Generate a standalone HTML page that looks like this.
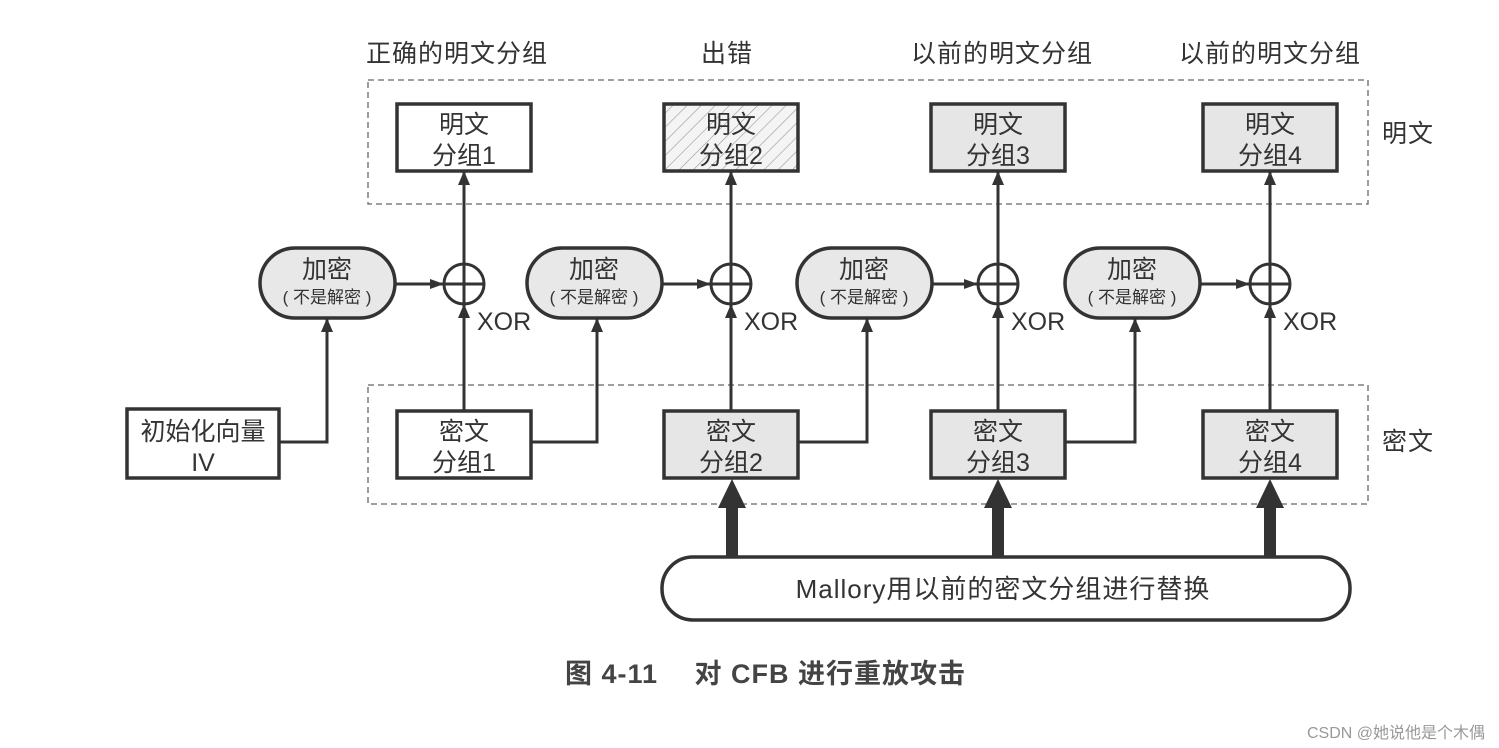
<!DOCTYPE html>
<html><head><meta charset="utf-8"><style>
html,body{margin:0;padding:0;background:#fff;}
svg{display:block;}
text{font-family:"Liberation Sans","Noto Sans CJK SC",sans-serif;fill:#333;}
</style></head><body>
<svg width="1499" height="748" viewBox="0 0 1499 748" xmlns="http://www.w3.org/2000/svg">
<defs>
<marker id="a" viewBox="0 0 14 12" refX="13" refY="6" markerWidth="14" markerHeight="12" markerUnits="userSpaceOnUse" orient="auto"><path d="M0,0 L14,6 L0,12 z" fill="#333"/></marker>
<marker id="b" viewBox="0 0 14 12" refX="13" refY="6" markerWidth="14" markerHeight="12" markerUnits="userSpaceOnUse" orient="auto"><path d="M0,1 L14,6 L0,11 z" fill="#333"/></marker>
<pattern id="h" width="10" height="10" patternUnits="userSpaceOnUse" patternTransform="rotate(45)"><rect width="10" height="10" fill="#f4f4f4"/><line x1="0" y1="0" x2="0" y2="10" stroke="#999" stroke-width="1.2"/></pattern>
</defs>
<g font-size="25" text-anchor="middle" letter-spacing="1">
<text x="457" y="62">正确的明文分组</text>
<text x="727" y="62">出错</text>
<text x="1002" y="62">以前的明文分组</text>
<text x="1270" y="62">以前的明文分组</text>
<text x="1408" y="142">明文</text>
<text x="1408" y="450">密文</text>
</g>
<rect x="368" y="80" width="1000" height="124" fill="none" stroke="#666" stroke-width="1.3" stroke-dasharray="6,4"/>
<rect x="368" y="385" width="1000" height="119" fill="none" stroke="#666" stroke-width="1.3" stroke-dasharray="6,4"/>
<g stroke="#333" stroke-width="3.5">
<rect x="397" y="104" width="134" height="67" fill="#fff"/>
<rect x="664" y="104" width="134" height="67" fill="url(#h)"/>
<rect x="931" y="104" width="134" height="67" fill="#e6e6e6"/>
<rect x="1203" y="104" width="134" height="67" fill="#e6e6e6"/>
<rect x="397" y="411" width="134" height="67" fill="#fff"/>
<rect x="664" y="411" width="134" height="67" fill="#e6e6e6"/>
<rect x="931" y="411" width="134" height="67" fill="#e6e6e6"/>
<rect x="1203" y="411" width="134" height="67" fill="#e6e6e6"/>
<rect x="127" y="409" width="152" height="69" fill="#fff"/>
<rect x="260" y="248" width="135" height="70" rx="35" fill="#e8e8e8"/>
<rect x="527" y="248" width="135" height="70" rx="35" fill="#e8e8e8"/>
<rect x="797" y="248" width="135" height="70" rx="35" fill="#e8e8e8"/>
<rect x="1065" y="248" width="135" height="70" rx="35" fill="#e8e8e8"/>
<rect x="662" y="557" width="688" height="63" rx="31" fill="#fff"/>
</g>
<g stroke="#333" stroke-width="3" fill="none">
<circle cx="464" cy="284" r="20"/><line x1="444" y1="284" x2="484" y2="284"/>
<circle cx="731" cy="284" r="20"/><line x1="711" y1="284" x2="751" y2="284"/>
<circle cx="998" cy="284" r="20"/><line x1="978" y1="284" x2="1018" y2="284"/>
<circle cx="1270" cy="284" r="20"/><line x1="1250" y1="284" x2="1290" y2="284"/>
<line x1="464" y1="304" x2="464" y2="172" marker-end="url(#a)"/>
<line x1="731" y1="304" x2="731" y2="172" marker-end="url(#a)"/>
<line x1="998" y1="304" x2="998" y2="172" marker-end="url(#a)"/>
<line x1="1270" y1="304" x2="1270" y2="172" marker-end="url(#a)"/>
<line x1="464" y1="411" x2="464" y2="305" marker-end="url(#a)"/>
<line x1="731" y1="411" x2="731" y2="305" marker-end="url(#a)"/>
<line x1="998" y1="411" x2="998" y2="305" marker-end="url(#a)"/>
<line x1="1270" y1="411" x2="1270" y2="305" marker-end="url(#a)"/>
<line x1="395" y1="284" x2="443" y2="284" marker-end="url(#b)"/>
<line x1="662" y1="284" x2="710" y2="284" marker-end="url(#b)"/>
<line x1="932" y1="284" x2="977" y2="284" marker-end="url(#b)"/>
<line x1="1200" y1="284" x2="1249" y2="284" marker-end="url(#b)"/>
<polyline points="279,442 327,442 327,319" marker-end="url(#a)"/>
<polyline points="531,442 597,442 597,319" marker-end="url(#a)"/>
<polyline points="798,442 867,442 867,319" marker-end="url(#a)"/>
<polyline points="1065,442 1135,442 1135,319" marker-end="url(#a)"/>
</g>
<g fill="#333">
<rect x="726" y="505" width="12" height="52"/><path d="M718,508 L732,479 L746,508 z"/>
<rect x="992" y="505" width="12" height="52"/><path d="M984,508 L998,479 L1012,508 z"/>
<rect x="1264" y="505" width="12" height="52"/><path d="M1256,508 L1270,479 L1284,508 z"/>
</g>
<g font-size="25" text-anchor="middle">
<text x="464" y="133">明文</text><text x="464" y="164">分组1</text>
<text x="731" y="133">明文</text><text x="731" y="164">分组2</text>
<text x="998" y="133">明文</text><text x="998" y="164">分组3</text>
<text x="1270" y="133">明文</text><text x="1270" y="164">分组4</text>
<text x="464" y="440">密文</text><text x="464" y="471">分组1</text>
<text x="731" y="440">密文</text><text x="731" y="471">分组2</text>
<text x="998" y="440">密文</text><text x="998" y="471">分组3</text>
<text x="1270" y="440">密文</text><text x="1270" y="471">分组4</text>
<text x="203" y="440">初始化向量</text><text x="203" y="471">IV</text>
<text x="327" y="278">加密</text><text x="594" y="278">加密</text><text x="864" y="278">加密</text><text x="1132" y="278">加密</text>
</g>
<g font-size="17" text-anchor="middle">
<text x="327" y="303">( 不是解密 )</text><text x="594" y="303">( 不是解密 )</text><text x="864" y="303">( 不是解密 )</text><text x="1132" y="303">( 不是解密 )</text>
</g>
<g font-size="25">
<text x="477" y="330">XOR</text><text x="744" y="330">XOR</text><text x="1011" y="330">XOR</text><text x="1283" y="330">XOR</text>
</g>
<text x="1003" y="598" font-size="26" text-anchor="middle" letter-spacing="1">Mallory用以前的密文分组进行替换</text>
<text x="565" y="683" font-size="27" font-weight="bold" letter-spacing="1" style="fill:#444">图 4-11　 对 CFB 进行重放攻击</text>
<text x="1485" y="738" font-size="16" text-anchor="end" style="fill:#999">CSDN @她说他是个木偶</text>
</svg>
</body></html>
